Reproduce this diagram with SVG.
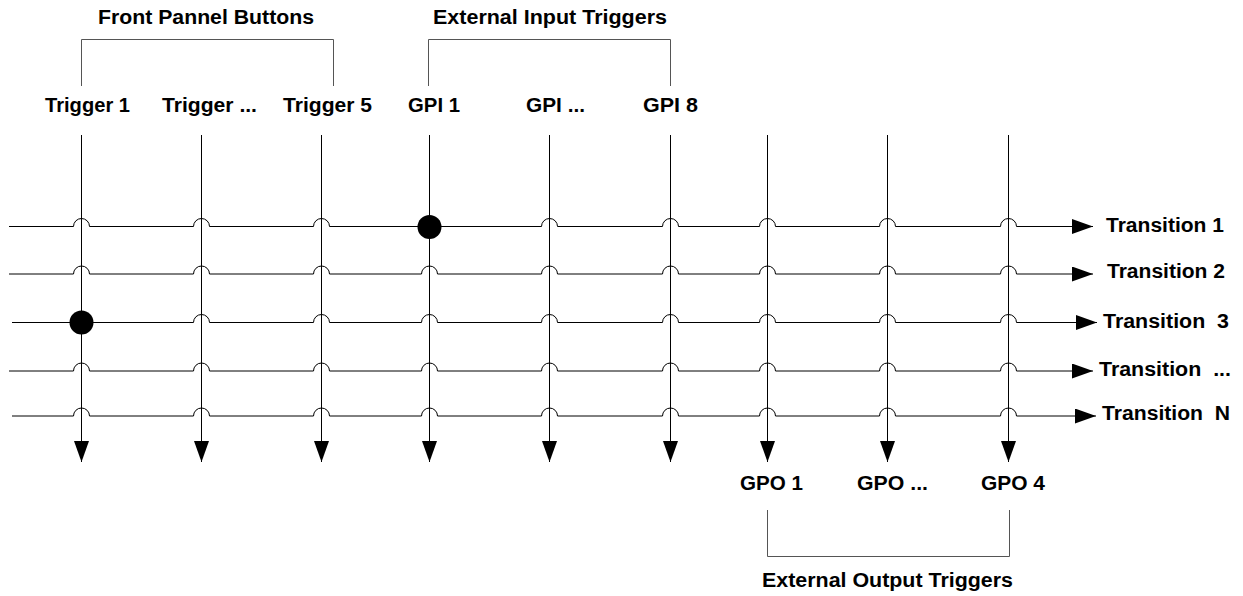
<svg xmlns="http://www.w3.org/2000/svg" width="1243" height="596" viewBox="0 0 1243 596">
<defs>
<style>
text{font-family:"Liberation Sans",Arial,sans-serif;font-weight:bold;font-size:20px;fill:#000;white-space:pre}
.ln{fill:none;stroke:#000;stroke-width:1}
.br{fill:none;stroke:#555;stroke-width:1}
.dot{fill:#000}
</style>
<marker id="ah" markerUnits="userSpaceOnUse" markerWidth="22" markerHeight="16" refX="21" refY="7.5" orient="auto" viewBox="0 0 22 16">
<path d="M0,0 L21,7.5 L0,15 z" fill="#000"/>
</marker>
</defs>
<rect width="1243" height="596" fill="#fff"/>
<g id="brackets">
<path class="br" d="M81.5,86 V39.5 H333.5 V86"/>
<path class="br" d="M428.5,86 V39.5 H670.5 V86"/>
<path class="br" d="M767.5,510 V556.5 H1009.5 V510"/>
</g>
<g id="titles">
<text id="t-front" x="98" y="24" textLength="216" lengthAdjust="spacingAndGlyphs">Front Pannel Buttons</text>
<text id="t-ext-in" x="433" y="24" textLength="234" lengthAdjust="spacingAndGlyphs">External Input Triggers</text>
<text id="t-ext-out" x="762" y="587" textLength="251" lengthAdjust="spacingAndGlyphs">External Output Triggers</text>
</g>
<g id="connectors">
<g id="verticals">
<path class="ln" d="M81.5,135 V462" marker-end="url(#ah)"/>
<path class="ln" d="M201.5,135 V462" marker-end="url(#ah)"/>
<path class="ln" d="M321.5,135 V462" marker-end="url(#ah)"/>
<path class="ln" d="M429.5,135 V462" marker-end="url(#ah)"/>
<path class="ln" d="M549.5,135 V462" marker-end="url(#ah)"/>
<path class="ln" d="M670.5,135 V462" marker-end="url(#ah)"/>
<path class="ln" d="M767.5,135 V462" marker-end="url(#ah)"/>
<path class="ln" d="M887.5,135 V462" marker-end="url(#ah)"/>
<path class="ln" d="M1008.5,135 V462" marker-end="url(#ah)"/>
</g>
<g id="rows">
<path class="ln" marker-end="url(#ah)" d="M9,226.5 H73.5 A8,8 0 0 1 89.5,226.5 H193.5 A8,8 0 0 1 209.5,226.5 H313.5 A8,8 0 0 1 329.5,226.5 H541.5 A8,8 0 0 1 557.5,226.5 H662.5 A8,8 0 0 1 678.5,226.5 H759.5 A8,8 0 0 1 775.5,226.5 H879.5 A8,8 0 0 1 895.5,226.5 H1000.5 A8,8 0 0 1 1016.5,226.5 H1093"/>
<path class="ln" marker-end="url(#ah)" d="M9,274 H73.5 A8,8 0 0 1 89.5,274 H193.5 A8,8 0 0 1 209.5,274 H313.5 A8,8 0 0 1 329.5,274 H421.5 A8,8 0 0 1 437.5,274 H541.5 A8,8 0 0 1 557.5,274 H662.5 A8,8 0 0 1 678.5,274 H759.5 A8,8 0 0 1 775.5,274 H879.5 A8,8 0 0 1 895.5,274 H1000.5 A8,8 0 0 1 1016.5,274 H1093"/>
<path class="ln" marker-end="url(#ah)" d="M12,322.5 H193.5 A8,8 0 0 1 209.5,322.5 H313.5 A8,8 0 0 1 329.5,322.5 H421.5 A8,8 0 0 1 437.5,322.5 H541.5 A8,8 0 0 1 557.5,322.5 H662.5 A8,8 0 0 1 678.5,322.5 H759.5 A8,8 0 0 1 775.5,322.5 H879.5 A8,8 0 0 1 895.5,322.5 H1000.5 A8,8 0 0 1 1016.5,322.5 H1097"/>
<path class="ln" marker-end="url(#ah)" d="M9,371 H73.5 A8,8 0 0 1 89.5,371 H193.5 A8,8 0 0 1 209.5,371 H313.5 A8,8 0 0 1 329.5,371 H421.5 A8,8 0 0 1 437.5,371 H541.5 A8,8 0 0 1 557.5,371 H662.5 A8,8 0 0 1 678.5,371 H759.5 A8,8 0 0 1 775.5,371 H879.5 A8,8 0 0 1 895.5,371 H1000.5 A8,8 0 0 1 1016.5,371 H1093"/>
<path class="ln" marker-end="url(#ah)" d="M12,416 H73.5 A8,8 0 0 1 89.5,416 H193.5 A8,8 0 0 1 209.5,416 H313.5 A8,8 0 0 1 329.5,416 H421.5 A8,8 0 0 1 437.5,416 H541.5 A8,8 0 0 1 557.5,416 H662.5 A8,8 0 0 1 678.5,416 H759.5 A8,8 0 0 1 775.5,416 H879.5 A8,8 0 0 1 895.5,416 H1000.5 A8,8 0 0 1 1016.5,416 H1096"/>
</g>
<g id="junctions">
<circle class="dot" cx="429.5" cy="227" r="12"/>
<circle class="dot" cx="81.5" cy="322.5" r="12"/>
</g>
</g>
<g id="node-trigger1"><text x="45" y="112" textLength="85" lengthAdjust="spacingAndGlyphs">Trigger 1</text></g>
<g id="node-trigger-more"><text x="162" y="112" textLength="95" lengthAdjust="spacingAndGlyphs">Trigger ...</text></g>
<g id="node-trigger5"><text x="283" y="112" textLength="89" lengthAdjust="spacingAndGlyphs">Trigger 5</text></g>
<g id="node-gpi1"><text x="408" y="112" textLength="52" lengthAdjust="spacingAndGlyphs">GPI 1</text></g>
<g id="node-gpi-more"><text x="526" y="112" textLength="59" lengthAdjust="spacingAndGlyphs">GPI ...</text></g>
<g id="node-gpi8"><text x="643" y="112" textLength="55" lengthAdjust="spacingAndGlyphs">GPI 8</text></g>
<g id="node-transition1"><text x="1106" y="232" textLength="118" lengthAdjust="spacingAndGlyphs">Transition 1</text></g>
<g id="node-transition2"><text x="1107" y="278" textLength="118" lengthAdjust="spacingAndGlyphs">Transition 2</text></g>
<g id="node-transition3"><text x="1103" y="328" textLength="126" lengthAdjust="spacingAndGlyphs">Transition  3</text></g>
<g id="node-transition-more"><text x="1099" y="376" textLength="132" lengthAdjust="spacingAndGlyphs">Transition  ...</text></g>
<g id="node-transitionN"><text x="1102" y="420" textLength="128" lengthAdjust="spacingAndGlyphs">Transition  N</text></g>
<g id="node-gpo1"><text x="740" y="490" textLength="63" lengthAdjust="spacingAndGlyphs">GPO 1</text></g>
<g id="node-gpo-more"><text x="857" y="490" textLength="71" lengthAdjust="spacingAndGlyphs">GPO ...</text></g>
<g id="node-gpo4"><text x="981" y="490" textLength="64" lengthAdjust="spacingAndGlyphs">GPO 4</text></g>
</svg>
